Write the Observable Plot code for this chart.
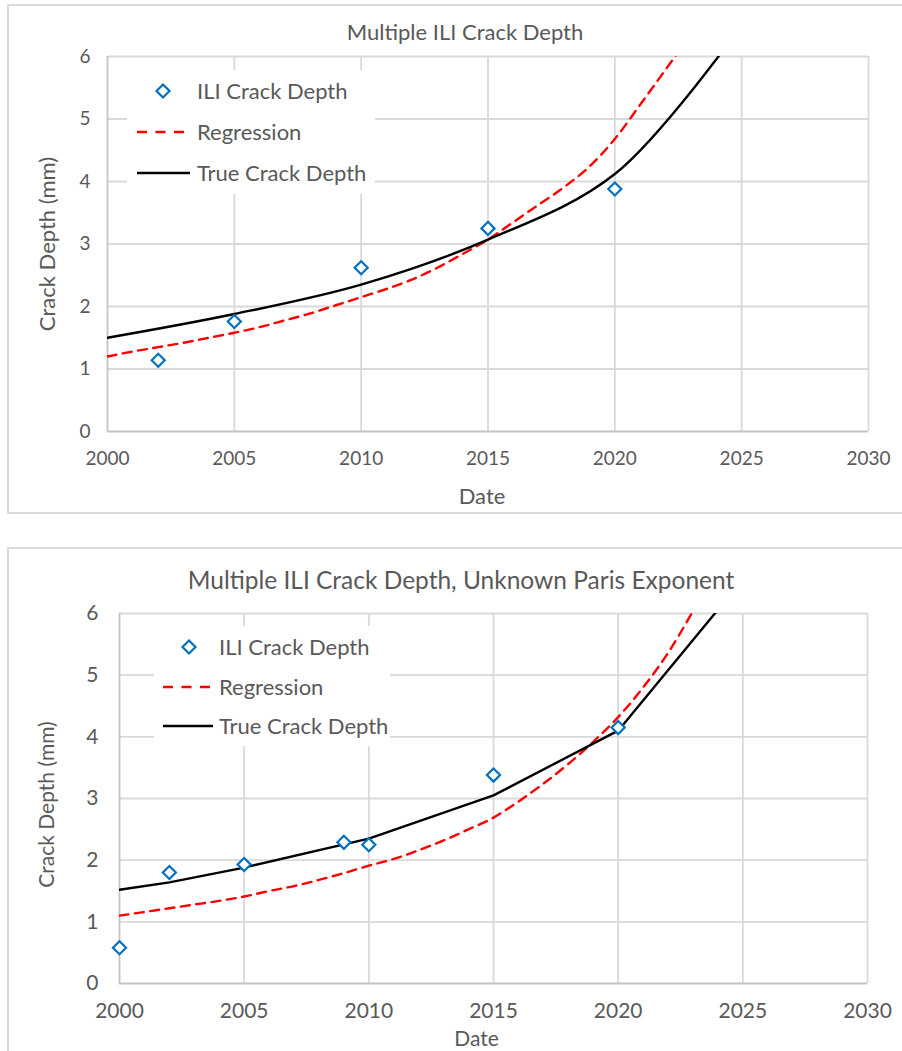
<!DOCTYPE html>
<html><head><meta charset="utf-8">
<script src="https://cdn.jsdelivr.net/npm/d3@7"></script>
<script src="https://cdn.jsdelivr.net/npm/@observablehq/plot@0.6"></script>
<style>
html,body{margin:0;padding:0;background:#fff;overflow:hidden;width:902px;height:1051px;}
body{position:relative;font-family:Lato,"Open Sans",sans-serif;color:#595959;}
.box{position:absolute;border:2px solid #d9d9d9;box-sizing:border-box;}
.title{position:absolute;white-space:nowrap;transform:translateX(-50%);line-height:1;color:#595959;}
.chart{position:absolute;left:0;}
.legend{position:absolute;background:#fff;}
.legend .row{position:absolute;left:0;display:flex;align-items:center;white-space:nowrap;line-height:1;color:#595959;}
.legend svg{display:block;}
</style></head><body>
<div class="box" style="left:7px;top:4px;width:920px;height:510px;"></div>
<div class="box" style="left:7px;top:547px;width:920px;height:560px;"></div>
<div id="t1" class="title" style="left:465px;top:21px;font-size:22px;">Multiple ILI Crack Depth</div>
<div id="c1" class="chart" style="top:0px;"></div>
<div id="t2" class="title" style="left:461px;top:568px;font-size:24.5px;">Multiple ILI Crack Depth, Unknown Paris Exponent</div>
<div id="c2" class="chart" style="top:520px;"></div>
<script>
// ---------- Data: top chart ----------
const topIliYears = [2002, 2005, 2010, 2015, 2020];
const topIliDepth = [1.14, 1.76, 2.62, 3.25, 3.88];
const topRegYears = [2000, 2001, 2002, 2003, 2004, 2005, 2006, 2007, 2008, 2009, 2010, 2011, 2012, 2013, 2014, 2015, 2016, 2017, 2018, 2019, 2020, 2021, 2022, 2023];
const topRegDepth = [1.20, 1.28, 1.35, 1.42, 1.50, 1.58, 1.67, 1.78, 1.89, 2.02, 2.15, 2.28, 2.43, 2.62, 2.84, 3.07, 3.35, 3.63, 3.91, 4.24, 4.68, 5.23, 5.79, 6.35];
const topTrueYears = [2000, 2005, 2010, 2015, 2020, 2025];
const topTrueDepth = [1.50, 1.88, 2.35, 3.07, 4.12, 6.50];

// ---------- Data: bottom chart ----------
const botIliYears = [2000, 2002, 2005, 2009, 2010, 2015, 2020];
const botIliDepth = [0.58, 1.80, 1.93, 2.29, 2.25, 3.38, 4.15];
const botRegYears = [2000, 2001, 2002, 2003, 2004, 2005, 2006, 2007, 2008, 2009, 2010, 2011, 2012, 2013, 2014, 2015, 2016, 2017, 2018, 2019, 2020, 2021, 2022, 2023];
const botRegDepth = [1.10, 1.16, 1.22, 1.28, 1.34, 1.41, 1.50, 1.58, 1.68, 1.79, 1.91, 2.02, 2.16, 2.32, 2.50, 2.69, 2.95, 3.24, 3.56, 3.92, 4.32, 4.80, 5.36, 6.04];
const botTrueYears = [2000, 2002, 2005, 2010, 2015, 2020, 2025];
const botTrueDepth = [1.52, 1.64, 1.88, 2.35, 3.05, 4.10, 6.55];

// ---------- Shared ----------
const xTicks = [2000, 2005, 2010, 2015, 2020, 2025, 2030];
const yTicks = [0, 1, 2, 3, 4, 5, 6];
const legendLabels = ["ILI Crack Depth", "Regression", "True Crack Depth"];
const xTitle = "Date";
const yTitle = "Crack Depth (mm)";
const BLUE = "#0070C0", RED = "#FF0000", BLACK = "#000000", GRID = "#d9d9d9", AXIS = "#c4c4c4", TEXT = "#595959";

function zip(xs, ys) { return xs.map((x, i) => ({year: x, depth: ys[i]})); }

function makeChart(cfg) {
  const ili = zip(cfg.iliYears, cfg.iliDepth);
  const reg = zip(cfg.regYears, cfg.regDepth);
  const tru = zip(cfg.trueYears, cfg.trueDepth);
  return Plot.plot({
    width: 902,
    height: cfg.height,
    marginLeft: cfg.ml, marginRight: cfg.mr, marginTop: cfg.mt, marginBottom: cfg.mb,
    style: {fontFamily: "Lato, 'Open Sans', sans-serif", color: TEXT, background: "transparent", overflow: "visible"},
    x: {domain: [2000, 2030]},
    y: {domain: [0, 6]},
    marks: [
      Plot.gridX(xTicks.slice(1), {stroke: GRID, strokeOpacity: 1, strokeWidth: 1.8}),
      Plot.gridY(yTicks.slice(1), {stroke: GRID, strokeOpacity: 1, strokeWidth: 1.8}),
      Plot.ruleX([2000], {stroke: AXIS, strokeWidth: 1.8}),
      Plot.ruleY([0], {stroke: AXIS, strokeWidth: 1.8}),
      Plot.axisX(xTicks, {tickSize: 0, tickPadding: cfg.xPad, fontSize: cfg.tickFont, fill: TEXT,
        tickFormat: d => String(d), label: null}),
      Plot.text([xTitle], {frameAnchor: "bottom", dx: cfg.xLabelDx, dy: cfg.xLabelOffset, lineAnchor: "bottom",
        textAnchor: "middle", fontSize: cfg.labelFont, fill: TEXT}),
      Plot.axisY(yTicks, {tickSize: 0, tickPadding: cfg.yPad, fontSize: cfg.tickFont, fill: TEXT,
        tickFormat: d => String(d), label: null}),
      Plot.text([yTitle], {frameAnchor: "left", dx: -cfg.yLabelOffset, dy: cfg.yLabelDy, rotate: -90, lineAnchor: "top",
        textAnchor: "middle", fontSize: cfg.labelFont, fill: TEXT}),
      Plot.line(reg, {x: "year", y: "depth", stroke: RED, strokeWidth: 2.4, strokeDasharray: "9,6.5", curve: "monotone-x", clip: true}),
      Plot.line(tru, {x: "year", y: "depth", stroke: BLACK, strokeWidth: 2.4, curve: cfg.trueCurve, clip: true}),
      Plot.dot(ili, {x: "year", y: "depth", symbol: "diamond2", r: 5.9, stroke: BLUE, strokeWidth: 2.2, fill: "white"})
    ]
  });
}

function legend(parent, cfg) {
  const div = document.createElement("div");
  div.className = "legend";
  Object.assign(div.style, {left: cfg.left + "px", top: cfg.top + "px", width: cfg.width + "px", height: cfg.height + "px"});
  legendLabels.forEach((label, i) => {
    const row = document.createElement("div");
    row.className = "row";
    row.style.top = (cfg.rowY[i] - cfg.top - 15) + "px";
    row.style.height = "30px";
    row.style.fontSize = cfg.font + "px";
    const sw = cfg.swatchW;
    let sym;
    if (i === 0) {
      sym = `<svg width="${sw}" height="30"><path d="M${cfg.diamondX},${15-6.5}L${cfg.diamondX+6.5},15L${cfg.diamondX},${15+6.5}L${cfg.diamondX-6.5},15Z" fill="white" stroke="${BLUE}" stroke-width="2.2"/></svg>`;
    } else if (i === 1) {
      sym = `<svg width="${sw}" height="30"><line x1="${cfg.lineX0}" x2="${cfg.lineX1}" y1="15" y2="15" stroke="${RED}" stroke-width="2.4" stroke-dasharray="10,8.5"/></svg>`;
    } else {
      sym = `<svg width="${sw}" height="30"><line x1="${cfg.lineX0}" x2="${cfg.lineX1}" y1="15" y2="15" stroke="${BLACK}" stroke-width="2.4"/></svg>`;
    }
    row.innerHTML = sym + `<span style="margin-left:${cfg.textGap}px">${label}</span>`;
    div.appendChild(row);
  });
  parent.appendChild(div);
}

const c1 = makeChart({
  iliYears: topIliYears, iliDepth: topIliDepth, regYears: topRegYears, regDepth: topRegDepth,
  trueYears: topTrueYears, trueDepth: topTrueDepth, trueCurve: "catmull-rom",
  height: 513, ml: 107, mr: 34, mt: 56, mb: 82,
  tickFont: 19, labelFont: 22, xPad: 20, yPad: 17, xLabelOffset: 72, xLabelDx: -6, yLabelOffset: 68, yLabelDy: 0
});
document.getElementById("c1").appendChild(c1);

const c2 = makeChart({
  iliYears: botIliYears, iliDepth: botIliDepth, regYears: botRegYears, regDepth: botRegDepth,
  trueYears: botTrueYears, trueDepth: botTrueDepth, trueCurve: "linear",
  height: 531, ml: 119, mr: 35, mt: 93, mb: 68,
  tickFont: 21, labelFont: 21, xPad: 20, yPad: 21, xLabelOffset: 62, xLabelDx: -17, yLabelOffset: 80, yLabelDy: 6
});
document.getElementById("c2").appendChild(c2);

legend(document.body, {left: 127, top: 70, width: 248, height: 124, rowY: [91, 132, 173], font: 22,
  swatchW: 63, diamondX: 36, lineX0: 10, lineX1: 63, textGap: 7});
legend(document.body, {left: 154, top: 626, width: 236, height: 120, rowY: [647, 687, 726], font: 22,
  swatchW: 59, diamondX: 35, lineX0: 9, lineX1: 59, textGap: 6});
</script>
</body></html>
